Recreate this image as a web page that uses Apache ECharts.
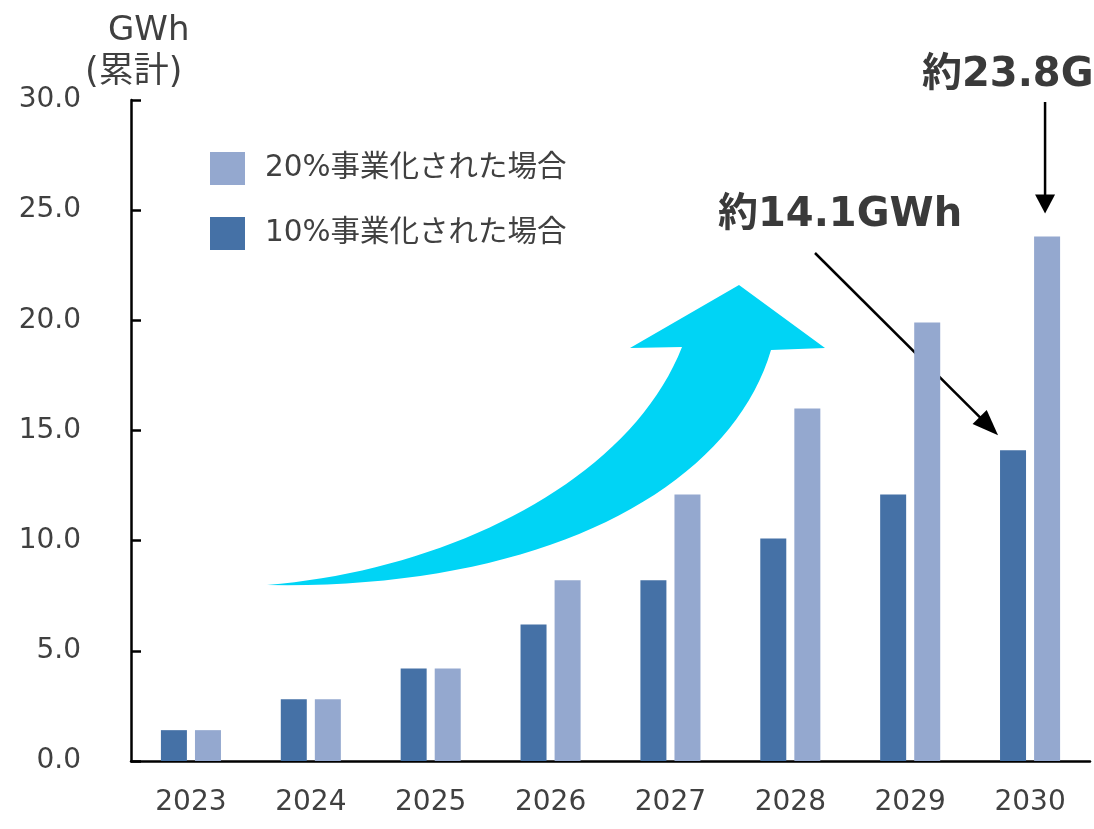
<!DOCTYPE html>
<html>
<head>
<meta charset="utf-8">
<script src="https://cdn.jsdelivr.net/npm/echarts@6/dist/echarts.min.js"></script>
<style>
html,body{margin:0;padding:0;background:#fff;}
#main{width:1094px;height:829px;}
</style>
</head>
<body>
<div id="main"></div>
<script>
const categories = ['2023','2024','2025','2026','2027','2028','2029','2030'];
const series10 = [1.4, 2.8, 4.2, 6.2, 8.2, 10.1, 12.1, 14.1];
const series20 = [1.4, 2.8, 4.2, 8.2, 12.1, 16.0, 19.9, 23.8];
const name10 = '10%事業化された場合';
const name20 = '20%事業化された場合';
const yTicks = [0, 5, 10, 15, 20, 25, 30];
const unitLabel = 'GWh';
const unitSub = '(累計)';
const note2030a = '約23.8G';
const note2030b = '約14.1GWh';

const txt = '#404040';
const fontNum = '"DejaVu Sans", "Noto Sans CJK JP", sans-serif';

function arrowHead(x1, y1, x2, y2, len, half) {
  const dx = x2 - x1, dy = y2 - y1;
  const d = Math.sqrt(dx*dx + dy*dy);
  const ux = dx/d, uy = dy/d;
  const bx = x2 - ux*len, by = y2 - uy*len;
  return [[x2, y2], [bx - uy*half, by + ux*half], [bx + uy*half, by - ux*half]];
}
function cubic(p0, p1, p2, p3, n) {
  const out = [];
  for (let i = 0; i <= n; i++) {
    const t = i / n, u = 1 - t;
    out.push([
      u*u*u*p0[0] + 3*u*u*t*p1[0] + 3*u*t*t*p2[0] + t*t*t*p3[0],
      u*u*u*p0[1] + 3*u*u*t*p1[1] + 3*u*t*t*p2[1] + t*t*t*p3[1]
    ]);
  }
  return out;
}
// decorative growth arrow outline
const upperEdge = cubic([267,585],[450,570],[630,480],[682,347], 40);
const lowerEdge = cubic([771,350],[730,490],[540,590],[267,585], 40);
const growthArrow = upperEdge.concat([[630,348],[739,285],[825,348]], lowerEdge);

const chart = echarts.init(document.getElementById('main'), null, {renderer: 'canvas'});
const option = {
  backgroundColor: '#ffffff',
  animation: false,
  grid: {left: 131, right: 4, top: 100, bottom: 68, containLabel: false, outerBoundsMode: 'none'},
  legend: {
    data: [name20, name10],
    orient: 'vertical',
    left: 205, top: 147,
    itemWidth: 35, itemHeight: 33, itemGap: 32,
    icon: 'rect',
    selectedMode: false,
    textStyle: {fontSize: 29.5, color: txt, fontFamily: fontNum, padding: [0,0,0,15], lineHeight: 33}
  },
  xAxis: {
    type: 'category',
    data: categories,
    axisLine: {lineStyle: {color: '#000', width: 2.5}},
    axisTick: {show: false},
    axisLabel: {fontSize: 28, color: txt, fontFamily: fontNum, margin: 28}
  },
  yAxis: {
    type: 'value',
    min: yTicks[0], max: yTicks[yTicks.length-1], interval: yTicks[1]-yTicks[0],
    splitLine: {show: false},
    axisLine: {show: true, lineStyle: {color: '#000', width: 2.5}},
    axisTick: {show: true, inside: true, length: 10, lineStyle: {color: '#000', width: 2.5}},
    axisLabel: {fontSize: 28, color: txt, fontFamily: fontNum, margin: 50,
      formatter: v => v.toFixed(1), padding: [0,0,6,0]}
  },
  series: [
    {name: name10, type: 'bar', data: series10, barWidth: 26, barGap: '31%',
     itemStyle: {color: '#4571A6'}},
    {name: name20, type: 'bar', data: series20, barWidth: 26, barGap: '31%',
     itemStyle: {color: '#94A8CF'}}
  ]
};
chart.setOption(option);

// annotation arrows aimed at the 2030 bars (convertToPixel gives the category centre)
const p10 = chart.convertToPixel({seriesIndex: 0}, [categories.length-1, series10[series10.length-1]]);
const p20 = chart.convertToPixel({seriesIndex: 1}, [categories.length-1, series20[series20.length-1]]);
const cx = p10[0];

const a1s = [815, 253], a1e = [cx - 32, p10[1] - 15];
const a2s = [cx + 15, 102], a2e = [cx + 15, p20[1] - 23];

chart.setOption({
  graphic: [
    {type: 'polygon', z: 5, shape: {points: growthArrow}, style: {fill: '#00D4F5'}},
    {type: 'text', left: 108, top: 14, style: {text: unitLabel, fontSize: 34, fill: txt, fontFamily: fontNum}},
    {type: 'text', left: 85, top: 55, style: {text: unitSub, fontSize: 35, fill: txt, fontFamily: fontNum}},
    {type: 'text', left: 718, top: 196, style: {text: note2030b, fontSize: 40, fontWeight: 'bold', fill: '#3a3a3a', fontFamily: fontNum}},
    {type: 'text', left: 922, top: 56, style: {text: note2030a, fontSize: 40, fontWeight: 'bold', fill: '#3a3a3a', fontFamily: fontNum}},
    {type: 'line', shape: {x1: a1s[0], y1: a1s[1], x2: a1e[0] - 12, y2: a1e[1] - 12}, style: {stroke: '#000', lineWidth: 2.5}},
    {type: 'polygon', shape: {points: arrowHead(a1s[0], a1s[1], a1e[0], a1e[1], 26, 10)}, style: {fill: '#000'}},
    {type: 'line', shape: {x1: a2s[0], y1: a2s[1], x2: a2e[0], y2: a2e[1] - 14}, style: {stroke: '#000', lineWidth: 2.5}},
    {type: 'polygon', shape: {points: arrowHead(a2s[0], a2s[1], a2e[0], a2e[1], 19, 10)}, style: {fill: '#000'}}
  ]
});
</script>
</body>
</html>
